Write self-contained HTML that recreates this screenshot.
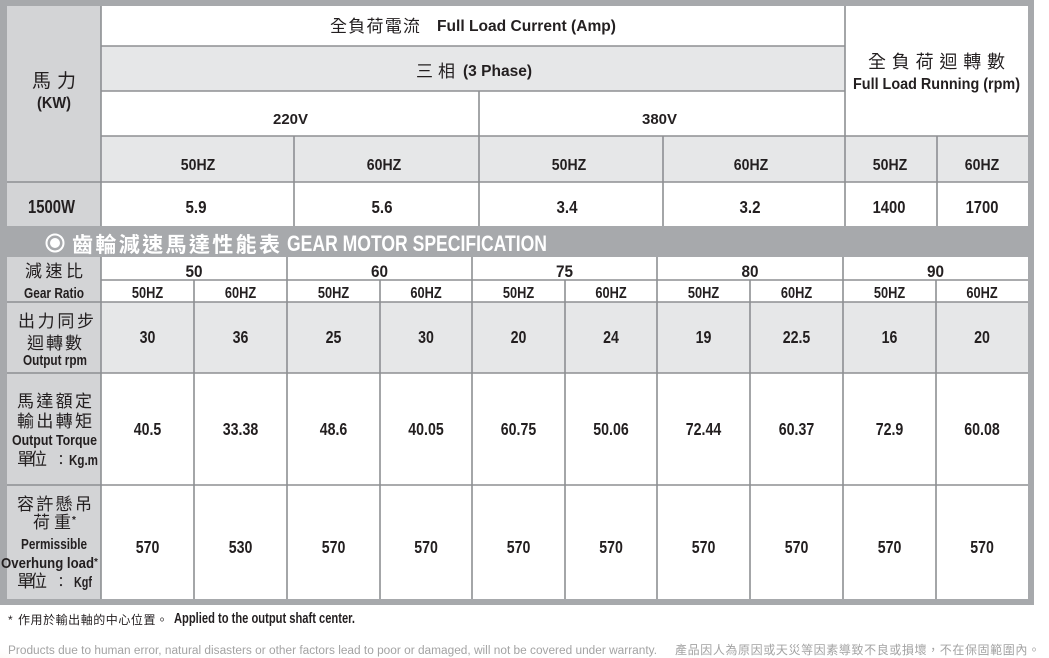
<!DOCTYPE html>
<html><head><meta charset="utf-8">
<style>
html,body{margin:0;padding:0;background:#fff;width:1049px;height:658px;overflow:hidden}
svg{display:block}
.e{font-family:"Liberation Sans",Arial,sans-serif;font-weight:700;fill:#231f20}
.c{font-family:"Liberation Sans","Noto Sans CJK TC","Noto Sans CJK SC",sans-serif;fill:#231f20}
.w{fill:#fff}
</style></head>
<body>
<svg width="1049" height="658" viewBox="0 0 1049 658" xmlns="http://www.w3.org/2000/svg">
<defs>
<radialGradient id="pg" cx="0.2" cy="0.9" r="0.8">
<stop offset="0" stop-color="#efcfb0" stop-opacity="0.8"/>
<stop offset="1" stop-color="#ffffff" stop-opacity="0"/>
</radialGradient>
</defs>
<rect width="1049" height="658" fill="#fff"/>
<ellipse cx="12" cy="660" rx="70" ry="18" fill="url(#pg)"/>

<!-- frame -->
<rect x="0" y="0" width="1034" height="605" fill="#a7a9ac"/>

<!-- upper cells -->
<rect x="7" y="6" width="94" height="220" fill="#d3d4d6"/>
<rect x="101" y="6" width="927" height="220" fill="#fff"/>
<rect x="101" y="46" width="744" height="45" fill="#e6e7e8"/>
<rect x="101" y="136" width="927" height="46" fill="#e6e7e8"/>

<!-- lower cells -->
<rect x="7" y="257" width="94" height="342" fill="#d3d4d6"/>
<rect x="101" y="257" width="927" height="342" fill="#fff"/>
<rect x="101" y="302" width="927" height="71" fill="#e6e7e8"/>

<g stroke="#8d8f92" stroke-width="1.6" fill="none">
<!-- upper horizontals -->
<line x1="101" y1="46" x2="845" y2="46"/>
<line x1="101" y1="91" x2="845" y2="91"/>
<line x1="101" y1="136" x2="1028" y2="136"/>
<line x1="7" y1="182" x2="1028" y2="182"/>
<!-- upper verticals -->
<line x1="101" y1="6" x2="101" y2="226"/>
<line x1="845" y1="6" x2="845" y2="226"/>
<line x1="479" y1="91" x2="479" y2="226"/>
<line x1="294" y1="136" x2="294" y2="226"/>
<line x1="663" y1="136" x2="663" y2="226"/>
<line x1="937" y1="136" x2="937" y2="226"/>
<!-- lower horizontals -->
<line x1="101" y1="280" x2="1028" y2="280"/>
<line x1="7" y1="302" x2="1028" y2="302"/>
<line x1="7" y1="373" x2="1028" y2="373"/>
<line x1="7" y1="485" x2="1028" y2="485"/>
<!-- lower verticals -->
<line x1="101" y1="257" x2="101" y2="599"/>
<line x1="287" y1="257" x2="287" y2="599"/>
<line x1="472" y1="257" x2="472" y2="599"/>
<line x1="657" y1="257" x2="657" y2="599"/>
<line x1="843" y1="257" x2="843" y2="599"/>
<line x1="194" y1="280" x2="194" y2="599"/>
<line x1="380" y1="280" x2="380" y2="599"/>
<line x1="565" y1="280" x2="565" y2="599"/>
<line x1="750" y1="280" x2="750" y2="599"/>
<line x1="936" y1="280" x2="936" y2="599"/>
</g>

<!-- ===== upper text ===== -->
<text class="c" x="32" y="87" font-size="19" textLength="44" lengthAdjust="spacing">馬力</text>
<text class="e" x="37" y="108" font-size="16" textLength="34" lengthAdjust="spacingAndGlyphs">(KW)</text>
<text class="e" x="28" y="213" font-size="18" textLength="47" lengthAdjust="spacingAndGlyphs">1500W</text>

<text class="c" x="330" y="32" font-size="17" textLength="90" lengthAdjust="spacing">全負荷電流</text>
<text class="e" x="437" y="31" font-size="15.5" textLength="179" lengthAdjust="spacingAndGlyphs">Full Load Current (Amp)</text>

<text class="c" x="416" y="77" font-size="17" textLength="39" lengthAdjust="spacing">三相</text>
<text class="e" x="463" y="76" font-size="15.5" textLength="69" lengthAdjust="spacingAndGlyphs">(3 Phase)</text>

<text class="e" x="273" y="124" font-size="15" textLength="35" lengthAdjust="spacingAndGlyphs">220V</text>
<text class="e" x="642" y="124" font-size="15" textLength="35" lengthAdjust="spacingAndGlyphs">380V</text>

<text class="c" x="868" y="68" font-size="18" textLength="137" lengthAdjust="spacing">全負荷迴轉數</text>
<text class="e" x="853" y="89" font-size="15.5" textLength="167" lengthAdjust="spacingAndGlyphs">Full Load Running (rpm)</text>

<g class="e" font-size="16" text-anchor="middle">
<text transform="translate(198,170) scale(.88,1)">50HZ</text>
<text transform="translate(384,170) scale(.88,1)">60HZ</text>
<text transform="translate(569,170) scale(.88,1)">50HZ</text>
<text transform="translate(751,170) scale(.88,1)">60HZ</text>
<text transform="translate(890,170) scale(.88,1)">50HZ</text>
<text transform="translate(982,170) scale(.88,1)">60HZ</text>
</g>
<g class="e" font-size="18" text-anchor="middle">
<text transform="translate(196,213) scale(.84,1)">5.9</text>
<text transform="translate(382,213) scale(.84,1)">5.6</text>
<text transform="translate(567,213) scale(.84,1)">3.4</text>
<text transform="translate(750,213) scale(.84,1)">3.2</text>
<text transform="translate(889,213) scale(.82,1)">1400</text>
<text transform="translate(982,213) scale(.82,1)">1700</text>
</g>

<!-- ===== band ===== -->
<circle cx="55" cy="243" r="8.5" fill="none" stroke="#fff" stroke-width="2"/>
<circle cx="55" cy="243" r="5" fill="#fff"/>
<text class="c w" x="72" y="252" font-size="21" font-weight="700" textLength="208" lengthAdjust="spacing" style="fill:#fff">齒輪減速馬達性能表</text>
<text class="e w" x="287" y="251" font-size="22" textLength="260" lengthAdjust="spacingAndGlyphs" style="fill:#fff">GEAR MOTOR SPECIFICATION</text>

<!-- ===== lower labels ===== -->
<text class="c" x="25" y="277" font-size="17" textLength="58" lengthAdjust="spacing">減速比</text>
<text class="e" x="24" y="298" font-size="15" textLength="60" lengthAdjust="spacingAndGlyphs">Gear Ratio</text>

<text class="c" x="18" y="327" font-size="17" textLength="76" lengthAdjust="spacing">出力同步</text>
<text class="c" x="27" y="349" font-size="17" textLength="55" lengthAdjust="spacing">迴轉數</text>
<text class="e" x="23" y="365" font-size="15" textLength="64" lengthAdjust="spacingAndGlyphs">Output rpm</text>

<text class="c" x="17" y="407" font-size="17" textLength="75" lengthAdjust="spacing">馬達額定</text>
<text class="c" x="17" y="427" font-size="17" textLength="75" lengthAdjust="spacing">輸出轉矩</text>
<text class="e" x="12" y="445" font-size="15" textLength="85" lengthAdjust="spacingAndGlyphs">Output Torque</text>
<text class="c" x="17" y="465" font-size="17" textLength="30" lengthAdjust="spacing">單位</text>
<text class="c" x="54" y="465" font-size="14">：</text>
<text class="e" x="69" y="465" font-size="15" textLength="29" lengthAdjust="spacingAndGlyphs">Kg.m</text>

<text class="c" x="17" y="510" font-size="17" textLength="75" lengthAdjust="spacing">容許懸吊</text>
<text class="c" x="33" y="528" font-size="17" textLength="38" lengthAdjust="spacing">荷重</text>
<text class="e" x="72" y="523" font-size="10">*</text>
<text class="e" x="21" y="549" font-size="15" textLength="66" lengthAdjust="spacingAndGlyphs">Permissible</text>
<text class="e" x="1" y="568" font-size="15" textLength="93" lengthAdjust="spacingAndGlyphs">Overhung load</text>
<text class="e" x="94" y="565" font-size="10">*</text>
<text class="c" x="17" y="587" font-size="17" textLength="30" lengthAdjust="spacing">單位</text>
<text class="c" x="54" y="587" font-size="14">：</text>
<text class="e" x="74" y="587" font-size="15" textLength="18" lengthAdjust="spacingAndGlyphs">Kgf</text>

<!-- ratio row -->
<g class="e" font-size="17" text-anchor="middle">
<text transform="translate(194,277) scale(.9,1)">50</text>
<text transform="translate(379.5,277) scale(.9,1)">60</text>
<text transform="translate(564.5,277) scale(.9,1)">75</text>
<text transform="translate(750,277) scale(.9,1)">80</text>
<text transform="translate(935.5,277) scale(.9,1)">90</text>
</g>
<!-- HZ row -->
<g class="e" font-size="16" text-anchor="middle">
<text transform="translate(147.5,298) scale(.8,1)">50HZ</text>
<text transform="translate(240.5,298) scale(.8,1)">60HZ</text>
<text transform="translate(333.5,298) scale(.8,1)">50HZ</text>
<text transform="translate(426,298) scale(.8,1)">60HZ</text>
<text transform="translate(518.5,298) scale(.8,1)">50HZ</text>
<text transform="translate(611,298) scale(.8,1)">60HZ</text>
<text transform="translate(703.5,298) scale(.8,1)">50HZ</text>
<text transform="translate(796.5,298) scale(.8,1)">60HZ</text>
<text transform="translate(889.5,298) scale(.8,1)">50HZ</text>
<text transform="translate(982,298) scale(.8,1)">60HZ</text>
</g>
<!-- output rpm -->
<g class="e" font-size="17.5" text-anchor="middle">
<text transform="translate(147.5,343) scale(.81,1)">30</text>
<text transform="translate(240.5,343) scale(.81,1)">36</text>
<text transform="translate(333.5,343) scale(.81,1)">25</text>
<text transform="translate(426,343) scale(.81,1)">30</text>
<text transform="translate(518.5,343) scale(.81,1)">20</text>
<text transform="translate(611,343) scale(.81,1)">24</text>
<text transform="translate(703.5,343) scale(.81,1)">19</text>
<text transform="translate(796.5,343) scale(.81,1)">22.5</text>
<text transform="translate(889.5,343) scale(.81,1)">16</text>
<text transform="translate(982,343) scale(.81,1)">20</text>
</g>
<!-- torque -->
<g class="e" font-size="17.5" text-anchor="middle">
<text transform="translate(147.5,435) scale(.81,1)">40.5</text>
<text transform="translate(240.5,435) scale(.81,1)">33.38</text>
<text transform="translate(333.5,435) scale(.81,1)">48.6</text>
<text transform="translate(426,435) scale(.81,1)">40.05</text>
<text transform="translate(518.5,435) scale(.81,1)">60.75</text>
<text transform="translate(611,435) scale(.81,1)">50.06</text>
<text transform="translate(703.5,435) scale(.81,1)">72.44</text>
<text transform="translate(796.5,435) scale(.81,1)">60.37</text>
<text transform="translate(889.5,435) scale(.81,1)">72.9</text>
<text transform="translate(982,435) scale(.81,1)">60.08</text>
</g>
<!-- overhung load -->
<g class="e" font-size="17.5" text-anchor="middle">
<text transform="translate(147.5,553) scale(.81,1)">570</text>
<text transform="translate(240.5,553) scale(.81,1)">530</text>
<text transform="translate(333.5,553) scale(.81,1)">570</text>
<text transform="translate(426,553) scale(.81,1)">570</text>
<text transform="translate(518.5,553) scale(.81,1)">570</text>
<text transform="translate(611,553) scale(.81,1)">570</text>
<text transform="translate(703.5,553) scale(.81,1)">570</text>
<text transform="translate(796.5,553) scale(.81,1)">570</text>
<text transform="translate(889.5,553) scale(.81,1)">570</text>
<text transform="translate(982,553) scale(.81,1)">570</text>
</g>

<!-- footnote -->
<text class="c" x="8" y="624" font-size="12">*</text>
<text class="c" x="18" y="624" font-size="12" textLength="150" lengthAdjust="spacing">作用於輸出軸的中心位置。</text>
<text class="e" x="174" y="623" font-size="14.5" textLength="181" lengthAdjust="spacingAndGlyphs">Applied to the output shaft center.</text>

<!-- disclaimer -->
<text x="8" y="654" font-family="Liberation Sans, Arial, sans-serif" font-size="11.5" fill="#a3a3a3" textLength="649" lengthAdjust="spacingAndGlyphs">Products due to human error, natural disasters or other factors lead to poor or damaged, will not be covered under warranty.</text>
<text x="675" y="654" font-family="Liberation Sans, Noto Sans CJK TC, sans-serif" font-size="12" fill="#a3a3a3" textLength="365" lengthAdjust="spacing">產品因人為原因或天災等因素導致不良或損壞，不在保固範圍內。</text>
</svg>
</body></html>
